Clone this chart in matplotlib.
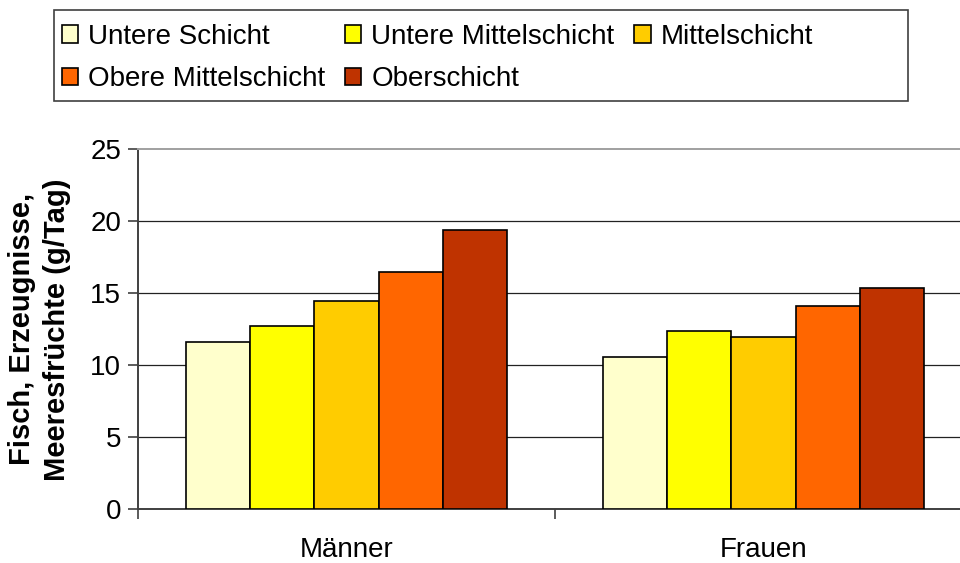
import numpy as np
import matplotlib
matplotlib.use('Agg')
from matplotlib import pyplot as plt
from matplotlib.patches import Rectangle

plt.rcParams['font.family'] = ['Liberation Sans', 'DejaVu Sans']

groups = ['Männer', 'Frauen']
schichten = ['Untere Schicht', 'Untere Mittelschicht', 'Mittelschicht',
             'Obere Mittelschicht', 'Oberschicht']
maenner = [11.6, 12.7, 14.5, 16.45, 19.4]
frauen = [10.6, 12.4, 12.0, 14.1, 15.35]
farben = ['#FFFFCC', '#FFFF00', '#FFCC00', '#FF6600', '#BF3300']

W, H = 960, 563
fig = plt.figure(figsize=(9.6, 5.63), dpi=100)
ax = fig.add_axes([138 / W, 1 - 509.3 / H, (972 - 138) / W, 360 / H])

x = np.arange(len(groups))
w = 0.1543
handles = []
for i, name in enumerate(schichten):
    vals = [maenner[i], frauen[i]]
    b = ax.bar(x + (i - 2) * w, vals, width=w, color=farben[i],
               edgecolor='black', linewidth=1.2, label=name, zorder=3)
    handles.append(b)

ax.set_xlim(-0.5, 1.5)
ax.set_ylim(0, 25)
ax.set_yticks(range(0, 26, 5))
ax.tick_params(axis='y', labelsize=20, length=7, width=1.2,
               color='#404040', pad=5, direction='out')

# category labels as minor ticks, boundary tick marks as major ticks
ax.set_xticks([-0.5, 0.5, 1.5])
ax.set_xticklabels([])
ax.set_xticks(x, minor=True)
ax.set_xticklabels(groups, minor=True)
ax.tick_params(axis='x', which='major', length=7, width=1.2, color='#404040')
ax.tick_params(axis='x', which='minor', length=0, labelsize=20, pad=20)

ax.yaxis.grid(True, color='#222222', linewidth=0.9, zorder=1)
ax.get_ygridlines()[-1].set_visible(False)
ax.set_axisbelow(True)

ax.spines['left'].set_color('#404040')
ax.spines['left'].set_linewidth(1.4)
ax.spines['bottom'].set_color('#404040')
ax.spines['bottom'].set_linewidth(1.4)
ax.spines['top'].set_color('#a0a0a0')
ax.spines['top'].set_linewidth(1.4)
ax.spines['right'].set_visible(False)

ax.set_ylabel('Fisch, Erzeugnisse,\nMeeresfrüchte (g/Tag)', fontsize=21,
              fontweight='bold', linespacing=1.3)
ax.yaxis.set_label_coords((71 - 138) / 834, 0.5)

# legend frame drawn separately so it spans the full width
fig.patches.append(Rectangle((54 / W, 1 - 101 / H), (908 - 54) / W, 91 / H,
                             transform=fig.transFigure, facecolor='white',
                             edgecolor='#404040', linewidth=1.2))
order = [0, 3, 1, 4, 2]
fig.legend([handles[k] for k in order], [schichten[k] for k in order],
           ncol=3, loc='upper left', bbox_to_anchor=(56 / W, 1 - 18 / H),
           frameon=False, fontsize=20, handlelength=0.6, handleheight=0.6,
           handletextpad=0.36, columnspacing=0.7, labelspacing=0.6,
           borderpad=0.2, borderaxespad=0)

fig.savefig('out.png', dpi=100)
